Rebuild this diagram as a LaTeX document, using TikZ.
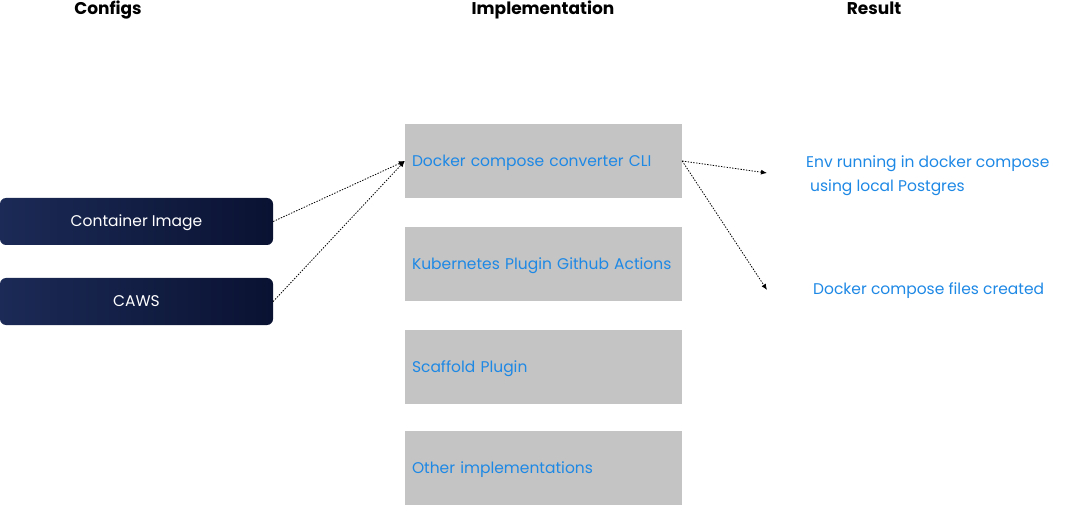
\documentclass[tikz,border=0pt]{standalone}
\usepackage{fontspec}
\setmainfont{Poppins}
\usepackage{tikz}
\usetikzlibrary{arrows.meta,shadings}
\definecolor{navyL}{HTML}{1B2A56}
\definecolor{navyR}{HTML}{0A1232}
\definecolor{boxgray}{HTML}{C4C4C4}
\definecolor{txtblue}{HTML}{1E88E5}

\begin{document}
\begin{tikzpicture}[x=1pt,y=-1pt,
  every node/.style={font=\fontsize{15.5}{24}\selectfont},
  head/.style={font=\fontsize{17}{20}\selectfont\bfseries,anchor=base},
  cfg/.style={rounded corners=6pt,left color=navyL,right color=navyR,text=white,
    minimum width=273pt,minimum height=47pt,inner sep=0pt,text depth=1pt},
  impl/.style={fill=boxgray,text=txtblue,minimum width=277pt,minimum height=74pt,
    inner sep=7pt,text width=263pt,align=left,text depth=1pt},
  res/.style={text=txtblue,align=left,inner sep=0pt},
  link/.style={thick,dash pattern=on 1.4pt off 1.4pt,-{Latex[length=6pt,width=5pt]}}]
  \useasboundingbox (0,0) rectangle (1085,505);
  % column titles
  \node[head] (hcfg) at (108,15) {Configs};
  \node[head] (himpl) at (543,15) {Implementation};
  \node[head] (hres) at (874,15) {Result};

  \node[cfg] (C1) at (136.5,221.5) {Container Image};
  \node[cfg] (C2) at (136.5,301.5) {CAWS};

  \node[impl] (I1) at (543.5,161) {Docker compose converter CLI};
  \node[impl] (I2) at (543.5,264) {Kubernetes Plugin Github Actions};
  \node[impl] (I3) at (543.5,367) {Scaffold Plugin};
  \node[impl] (I4) at (543.5,468) {Other implementations};

  \coordinate (R1tip) at (767,173);
  \coordinate (R2tip) at (767,290);
  \node[res,anchor=west] (R1) at (806,176) {Env running in docker compose\\ \hspace*{4pt}using local Postgres};
  \node[res,anchor=west] (R2) at (813,291) {Docker compose files created};

  \draw[link] (C1.east) -- (I1.west);
  \draw[link] (C2.east) -- (I1.west);
  \draw[link] (I1.east) -- (R1tip);
  \draw[link] (I1.east) -- (R2tip);
\end{tikzpicture}
\end{document}
